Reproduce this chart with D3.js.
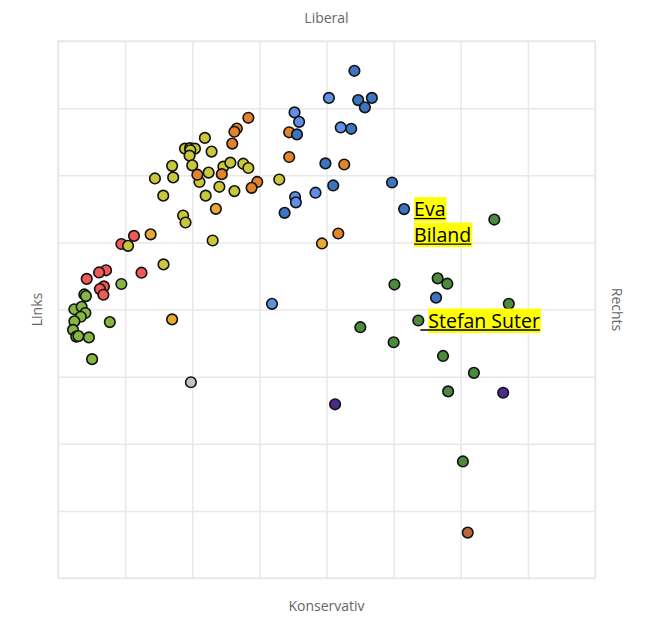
<!DOCTYPE html>
<html lang="de">
<head>
<meta charset="UTF-8">
<title>Smartmap</title>
<script src="https://d3js.org/d3.v7.min.js"></script>
<style>
    body {margin: 0; background: #fff;}
    svg text {font-family: "Open Sans", "Noto Sans", sans-serif;}
    .axis-title {fill: #666; font-size: 14px;}
    .grid line {stroke: #e8e8e8; stroke-width: 1.5px;}
    .grid path {display: none;}
    .frame {fill: none; stroke: #e8e8e8; stroke-width: 1.5px;}
    .dot {stroke: #111; stroke-width: 1.6px;}
    .label {font-size: 19.5px; fill: #000;}
</style>
</head>
<body>
<svg id="chart"></svg>
<script>
    // positions, x: links (-100) .. rechts (100), y: konservativ (-100) .. liberal (100)
    var sp = [[-71.7,27.4],[-76.4,24.4],[-82.1,14.6],[-84.7,13.8],[-89.3,11.4],[-68.9,13.7],
              [-82.9,8.6],[-84.4,7.6],[-83.1,5.5]];
    var gruene = [[-90.2,5.6],[-89.6,5.0],[-76.4,9.5],[-93.9,0.1],[-91.2,1.0],[-89.8,-1.3],
                  [-91.5,-2.7],[-93.9,-4.4],[-94.4,-7.6],[-93.2,-10.1],[-92.4,-9.9],[-88.5,-10.4],
                  [-80.7,-4.7],[-87.3,-18.5]];
    var glp = [[-45.3,63.9],[-42.8,58.8],[-52.7,59.9],[-50.8,60.1],[-49.0,59.9],[-50.7,59.3],
               [-51.0,57.3],[-57.5,53.5],[-50.0,53.7],[-38.4,53.2],[-35.8,54.7],[-31.0,54.3],
               [-29.1,52.7],[-63.9,48.8],[-57.1,49.2],[-43.9,51.0],[-47.3,47.5],[-39.9,45.7],
               [-34.3,44.1],[-17.6,48.4],[-60.8,42.4],[-45.0,42.4],[-53.4,35.0],[-52.5,32.4],
               [-42.4,25.7],[-73.9,23.7],[-60.7,16.8]];
    var mitte = [[-29.1,71.4],[-33.4,67.4],[-34.3,66.2],[-35.1,61.8],[-48.1,50.2],[-39.0,50.4],
                 [-25.8,47.5],[-27.9,45.3],[-13.9,66.0],[-13.9,56.8],[6.6,54.0],[4.4,28.3]];
    var evp = [[-41.2,37.5],[-65.5,28.0],[-57.5,-3.7],[-1.7,24.6]];
    var jf = [[0.9,78.8],[-11.9,73.4],[-10.2,69.9],[5.3,67.8],[-4.1,43.5],[-11.7,41.9],
              [-11.4,39.9],[-20.3,2.1]];
    var fdp = [[10.4,88.9],[11.8,78.0],[16.9,78.8],[14.3,75.3],[-11.0,65.2],[9.2,67.3],
               [-0.4,54.4],[24.4,47.3],[2.5,46.2],[-15.6,36.0],[28.9,37.4],[40.8,4.4]];
    var svp = [[62.5,33.5],[25.3,9.3],[41.4,11.6],[45.0,9.6],[67.9,2.1],[34.2,-4.1],
               [12.6,-6.6],[25.0,-12.2],[43.4,-17.3],[54.9,-23.6],[45.3,-30.5],[50.8,-56.6]];
    var edu = [[65.8,-31.0],[3.2,-35.3]];
    var andere = [[52.6,-83.1]];
    var parteilos = [[-50.5,-27.1]];

    var partyNames = ["SP", "Grüne", "GLP", "Mitte", "EVP", "JF", "FDP", "SVP", "EDU", "Andere", "Parteilos"];
    var partyData = [sp, gruene, glp, mitte, evp, jf, fdp, svp, edu, andere, parteilos];
    var partyColors = ["#ee5a55", "#84b843", "#c9c83b", "#e3832c", "#e9a935", "#5e90e7",
                       "#3c74bf", "#4c8a3c", "#4a2b8b", "#b9653f", "#c2c2c2"];

    var gridTicks = [-100, -75, -50, -25, 0, 25, 50, 75, 100];
    var axisTitles = {top: "Liberal", bottom: "Konservativ", left: "Links", right: "Rechts"};
    var highlights = [
        {party: "FDP", index: 10, lines: ["Eva", "Biland"]},
        {party: "SVP", index: 5, lines: ["Stefan Suter"]}
    ];

    var W = 653, H = 629;
    var mLeft = 58, mTop = 41, size = 537;

    var svg = d3.select("#chart").attr("width", W).attr("height", H);

    var x = d3.scaleLinear().domain([-100, 100]).range([mLeft, mLeft + size]);
    var y = d3.scaleLinear().domain([-100, 100]).range([mTop + size, mTop]);
    var color = d3.scaleOrdinal().domain(partyNames).range(partyColors);

    // grid from the axes, no tick labels
    svg.append("g")
        .attr("class", "grid")
        .attr("transform", "translate(0," + (mTop + size) + ")")
        .call(d3.axisBottom(x).tickValues(gridTicks).tickSize(-size).tickFormat(""));
    svg.append("g")
        .attr("class", "grid")
        .attr("transform", "translate(" + mLeft + ",0)")
        .call(d3.axisLeft(y).tickValues(gridTicks).tickSize(-size).tickFormat(""));

    svg.append("rect").attr("class", "frame")
        .attr("x", mLeft).attr("y", mTop).attr("width", size).attr("height", size);

    // axis titles
    svg.append("text").attr("class", "axis-title")
        .attr("x", mLeft + size / 2).attr("y", 23).attr("text-anchor", "middle")
        .text(axisTitles.top);
    svg.append("text").attr("class", "axis-title")
        .attr("x", mLeft + size / 2).attr("y", 611).attr("text-anchor", "middle")
        .text(axisTitles.bottom);
    svg.append("text").attr("class", "axis-title")
        .attr("text-anchor", "middle")
        .attr("transform", "translate(42," + (mTop + size / 2) + ") rotate(-90)")
        .text(axisTitles.left);
    svg.append("text").attr("class", "axis-title")
        .attr("text-anchor", "middle")
        .attr("transform", "translate(612," + (mTop + size / 2) + ") rotate(90)")
        .text(axisTitles.right);

    var points = [];
    partyNames.forEach(function(p, k) {
        partyData[k].forEach(function(d) { points.push({party: p, x: d[0], y: d[1]}); });
    });

    svg.append("g").selectAll("circle").data(points).enter()
        .append("circle")
        .attr("class", "dot")
        .attr("cx", function(d) { return x(d.x); })
        .attr("cy", function(d) { return y(d.y); })
        .attr("r", 5.3)
        .attr("fill", function(d) { return color(d.party); });

    // highlighted candidates
    var lineStep = 25.5;
    highlights.forEach(function(h) {
        var d = partyData[partyNames.indexOf(h.party)][h.index];
        var px = x(d[0]), py = y(d[1]);
        var g = svg.append("g");
        h.lines.forEach(function(line, i) {
            var boxTop = py - 12 + i * lineStep;
            var bg = g.append("rect").attr("fill", "#ffff00");
            var t = g.append("text").attr("class", "label")
                .attr("x", px + 10).attr("y", boxTop + 19).text(line);
            var w = t.node().getComputedTextLength();
            bg.attr("x", px + 10).attr("y", boxTop).attr("width", w + 1).attr("height", 24.5);
            var ux = h.lines.length === 1 ? px + 2 : px + 10;
            g.append("line")
                .attr("x1", ux).attr("x2", px + 10 + w)
                .attr("y1", boxTop + 21.5).attr("y2", boxTop + 21.5)
                .attr("stroke", "#000").attr("stroke-width", 1.3);
        });
    });
</script>
</body>
</html>
